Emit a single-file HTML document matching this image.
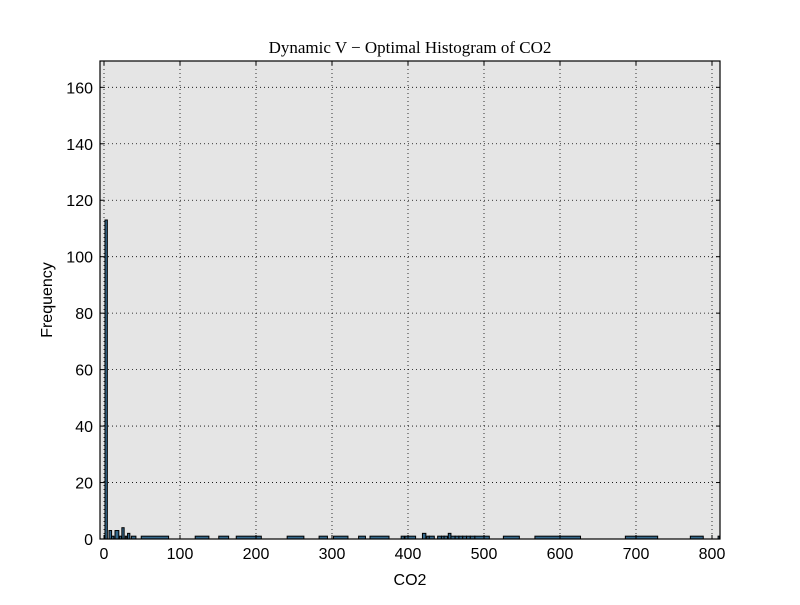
<!DOCTYPE html>
<html><head><meta charset="utf-8"><style>
body{margin:0;background:#fff;}
svg text{font-family:"Liberation Sans",sans-serif;}
</style></head><body>
<svg id="chart" width="800" height="600" xmlns="http://www.w3.org/2000/svg">
<rect x="0" y="0" width="800" height="600" fill="#fff"/>
<rect x="100" y="61" width="620" height="478" fill="#e5e5e5"/>
<g id="grid"></g>
<g id="bars"></g>
<rect x="100" y="61" width="620" height="478" fill="none" stroke="#000" stroke-width="1.2"/>
<g id="ticks"></g>
<text x="410" y="53" text-anchor="middle" font-size="17" style="font-family:'Liberation Serif',serif">Dynamic V − Optimal Histogram of CO2</text>
<text x="410" y="585" text-anchor="middle" font-size="16">CO2</text>
<text x="52" y="300" text-anchor="middle" font-size="16" transform="rotate(-90 52 300)">Frequency</text>
</svg>
<script>
const binStarts=[1.3,6.6,10,14.5,20.5,23.5,28,31,36,49,120,151,174,241,283,302,335,350,391,396,419,424.6,428,439,444,447.5,453,456.5,462,467,472,477,482,488,525.5,567,686,771.5,808];
const binEnds=[4.4,10,13,19.5,23,26.5,30,34,42,85,138,164,207,263,294,321,344,375,395,410,423.5,428,434.6,444,447.5,452,456.5,462,467,472,477,482,488,507,546.5,627,728.5,788.5,810];
const counts=[113,3,1,3,1,4,1,2,1,1,1,1,1,1,1,1,1,1,1,1,2,1,1,1,1,1,2,1,1,1,1,1,1,1,1,1,1,1,1];
const xTicks=[0,100,200,300,400,500,600,700,800];
const yTicks=[0,20,40,60,80,100,120,140,160];
const NS="http://www.w3.org/2000/svg";
const xs=v=>104+v*0.76;
const ys=v=>539-v*2.823;
const grid=document.getElementById('grid'),bars=document.getElementById('bars'),ticks=document.getElementById('ticks');
function mk(tag,attrs,parent){const e=document.createElementNS(NS,tag);for(const k in attrs)e.setAttribute(k,attrs[k]);parent.appendChild(e);return e;}
xTicks.forEach(t=>{
 const g=mk('line',{x1:xs(t),x2:xs(t),y1:61,y2:539,stroke:'#000','stroke-width':0.8,'stroke-dasharray':'1,3'},grid);
 
 
 const a=mk('line',{x1:xs(t),x2:xs(t),y1:539,y2:535,stroke:'#000'},ticks);
 
 
 const b=mk('line',{x1:xs(t),x2:xs(t),y1:61,y2:65,stroke:'#000'},ticks);
 
 
 const l=mk('text',{x:xs(t),y:559,'text-anchor':'middle','font-size':16},ticks);
 l.textContent=t;
 
 
});
yTicks.forEach(t=>{
 const g=mk('line',{x1:100,x2:720,y1:ys(t),y2:ys(t),stroke:'#000','stroke-width':0.8,'stroke-dasharray':'1,3'},grid);
 
 
 const a=mk('line',{x1:100,x2:104,y1:ys(t),y2:ys(t),stroke:'#000'},ticks);
 
 
 const b=mk('line',{x1:716,x2:720,y1:ys(t),y2:ys(t),stroke:'#000'},ticks);
 
 
 const l=mk('text',{x:93,y:ys(t)+6,'text-anchor':'end','font-size':16},ticks);
 l.textContent=t;
 
 
});
counts.forEach((c,i)=>{
 const x0=xs(binStarts[i]),x1=xs(binEnds[i]);
 const r=mk('rect',{x:x0,y:ys(c),width:Math.max(x1-x0,1),height:ys(0)-ys(c),fill:'#35698c',stroke:'#000','stroke-width':1},bars);
 
 
});
</script>
</body></html>
